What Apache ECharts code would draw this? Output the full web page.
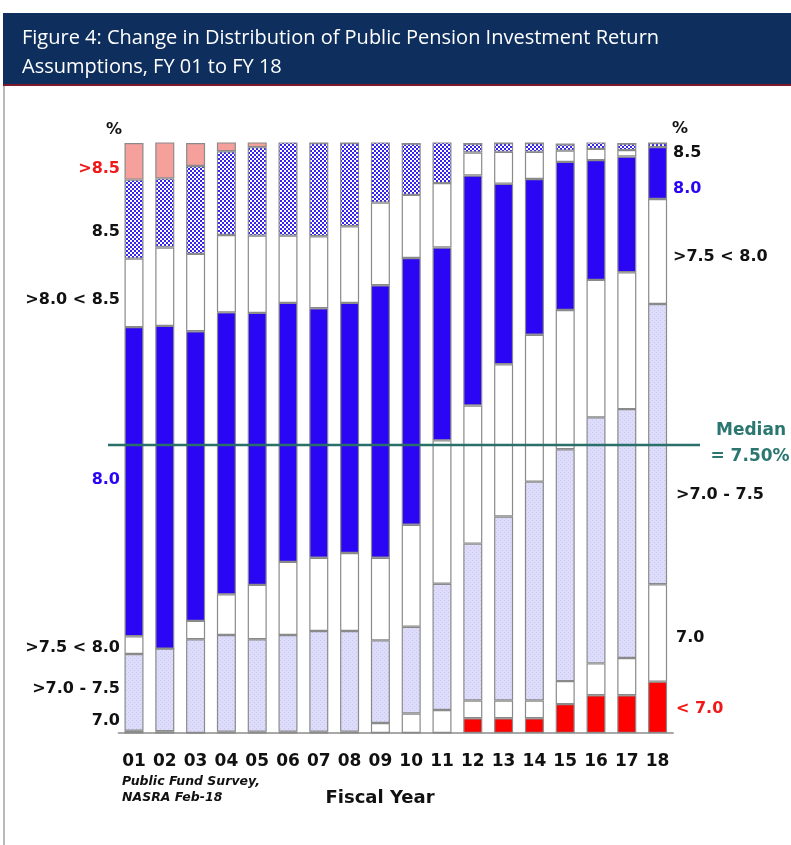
<!DOCTYPE html>
<html>
<head>
<meta charset="utf-8">
<script src="https://cdn.jsdelivr.net/npm/echarts@6/dist/echarts.min.js"></script>
<style>
  html, body { margin: 0; padding: 0; background: #fff; }
  #main { width: 791px; height: 845px; }
</style>
</head>
<body>
<div id="main"></div>
<script>
// fiscal years
var years = ['01', '02', '03', '04', '05', '06', '07', '08', '09', '10', '11', '12', '13', '14', '15', '16', '17', '18'];

// share of plans (%) by assumed return, bottom to top of each bar
var below70   = [0, 0, 0, 0, 0, 0, 0, 0, 0, 0, 0, 2.5, 2.5, 2.5, 4.9, 6.4, 6.4, 8.7];
var at70      = [0.4, 0.3, 0, 0.2, 0.2, 0.2, 0.2, 0.2, 1.7, 3.3, 3.9, 3.0, 3.0, 3.0, 3.9, 5.4, 6.3, 16.5];
var from70to75 = [13.0, 14.0, 15.9, 16.4, 15.7, 16.4, 17.1, 17.1, 14.0, 14.7, 21.4, 26.6, 31.2, 37.1, 39.3, 41.7, 42.2, 47.5];
var from75to80 = [3.0, 0, 3.1, 6.9, 9.2, 12.4, 12.4, 13.2, 14.0, 17.3, 24.3, 23.4, 25.8, 24.9, 23.6, 23.3, 23.2, 17.8];
var at80      = [52.4, 54.7, 49.1, 47.8, 46.1, 43.9, 42.3, 42.4, 46.2, 45.2, 32.7, 39.0, 30.6, 26.4, 25.1, 20.3, 19.6, 8.8];
var from80to85 = [11.6, 13.3, 13.1, 13.1, 13.1, 11.4, 12.2, 13.0, 14.0, 10.7, 10.9, 3.9, 5.4, 4.6, 1.9, 1.9, 1.1, 0];
var at85      = [13.4, 11.7, 14.9, 14.2, 15.0, 15.8, 15.8, 14.1, 10.2, 8.7, 7.0, 1.5, 1.5, 1.5, 1.1, 1.1, 1.1, 0.7];
var above85   = [6.2, 6.2, 3.9, 1.5, 0.8, 0, 0, 0, 0, 0, 0, 0, 0, 0, 0, 0, 0, 0];

// median marker (cumulative % where the line is drawn)
var medianLevel = 48.8;
var medianText = ['Median', '= 7.50%'];

var leftLabels = ['>8.5', '8.5', '>8.0 < 8.5', '8.0', '>7.5 < 8.0', '>7.0 - 7.5', '7.0'];
var rightLabels = ['8.5', '8.0', '>7.5 < 8.0', '>7.0 - 7.5', '7.0', '< 7.0'];

// small repeating canvas fills
function makePattern(bg, fg, cells) {
    var c = document.createElement('canvas');
    c.width = 4;
    c.height = 4;
    var ctx = c.getContext('2d');
    ctx.fillStyle = bg;
    ctx.fillRect(0, 0, 4, 4);
    ctx.fillStyle = fg;
    cells.forEach(function (p) { ctx.fillRect(p[0], p[1], p[2], p[3]); });
    return { image: c, repeat: 'repeat' };
}

var checker = makePattern('#ffffff', '#3522f0', [[0, 0, 2, 2], [2, 2, 2, 2]]);
var lavender = makePattern('#dddcfa', '#c9c8f0', [[0, 0, 1, 1], [2, 2, 1, 1]]);

var BLUE = '#2a06f4';
var font = 'DejaVu Sans';

function stackSeries(name, data, color) {
    return {
        name: name,
        type: 'bar',
        stack: 'total',
        barWidth: 19,
        data: data,
        itemStyle: { color: color, borderColor: '#8a8a8a', borderWidth: 1.2 },
        silent: true
    };
}

function txt(x, y, text, color, align, size) {
    return {
        type: 'text', x: x, y: y,
        style: {
            text: text, fill: color || '#111', font: 'bold ' + (size || 16) + 'px "' + font + '"',
            textAlign: align || 'right', textVerticalAlign: 'middle'
        }
    };
}

var chart = echarts.init(document.getElementById('main'));

var graphics = [
    // title banner
    { type: 'rect', shape: { x: 3, y: 13, width: 788, height: 71 }, style: { fill: '#0e2f5e' } },
    { type: 'rect', shape: { x: 3, y: 84, width: 788, height: 2 }, style: { fill: '#7c1a2c' } },
    { type: 'line', shape: { x1: 4, y1: 86, x2: 4, y2: 845 }, style: { stroke: '#a0a0a0', lineWidth: 1.5 } },
    {
        type: 'text', x: 22, y: 38,
        style: { text: 'Figure 4: Change in Distribution of Public Pension Investment Return', fill: '#fff',
                 font: '20px "Open Sans"', textVerticalAlign: 'middle' }
    },
    {
        type: 'text', x: 22, y: 67,
        style: { text: 'Assumptions, FY 01 to FY 18', fill: '#fff',
                 font: '20px "Open Sans"', textVerticalAlign: 'middle' }
    },
    // percent marks
    txt(122, 130, '%', '#111', 'right', 16),
    txt(672, 129, '%', '#111', 'left', 16),
    // left side
    txt(120, 169, leftLabels[0], '#f01818'),
    txt(120, 232, leftLabels[1]),
    txt(120, 300, leftLabels[2]),
    txt(120, 480, leftLabels[3], BLUE),
    txt(120, 648, leftLabels[4]),
    txt(120, 689, leftLabels[5]),
    txt(120, 721, leftLabels[6]),
    // right side
    txt(673, 153, rightLabels[0], '#111', 'left'),
    txt(673, 189, rightLabels[1], BLUE, 'left'),
    txt(673, 257, rightLabels[2], '#111', 'left'),
    txt(676, 495, rightLabels[3], '#111', 'left'),
    txt(676, 638, rightLabels[4], '#111', 'left'),
    txt(676, 709, rightLabels[5], '#f01818', 'left'),
    txt(751, 431, medianText[0], '#2b7670', 'center', 17),
    txt(750, 457, medianText[1], '#2b7670', 'center', 17),
    // source + axis name
    {
        type: 'text', x: 122, y: 790,
        style: { text: 'Public Fund Survey,\nNASRA Feb-18', fill: '#111', lineHeight: 16,
                 font: 'italic bold 12.5px "' + font + '"', textVerticalAlign: 'middle' }
    },
    txt(380, 798, 'Fiscal Year', '#111', 'center', 18)
];

var option = {
    animation: false,
    backgroundColor: '#fff',
    grid: [
        { left: 118.6, right: 118, top: 143, bottom: 112 },
        { left: 108, right: 91, top: 143, bottom: 112 }
    ],
    xAxis: [
        {
            type: 'category',
            data: years,
            gridIndex: 0,
            axisTick: { show: false },
            axisLine: { show: true, onZero: false, lineStyle: { color: '#a8a8a8', width: 2 } },
            axisLabel: { margin: 20, color: '#111', fontFamily: font, fontWeight: 'bold', fontSize: 17 }
        },
        { type: 'value', gridIndex: 1, min: 0, max: 1, show: false }
    ],
    yAxis: [
        { type: 'value', gridIndex: 0, min: 0, max: 100, show: false },
        { type: 'value', gridIndex: 1, min: 0, max: 100, show: false }
    ],
    series: [
        stackSeries('<7.0', below70, '#ff0000'),
        stackSeries('7.0', at70, '#ffffff'),
        stackSeries('>7.0 - 7.5', from70to75, lavender),
        stackSeries('>7.5 < 8.0', from75to80, '#ffffff'),
        stackSeries('8.0', at80, BLUE),
        stackSeries('>8.0 < 8.5', from80to85, '#ffffff'),
        stackSeries('8.5', at85, checker),
        stackSeries('>8.5', above85, '#f6a09c'),
        {
            name: 'Median',
            type: 'line',
            xAxisIndex: 1,
            yAxisIndex: 1,
            symbol: 'none',
            silent: true,
            z: 5,
            data: [[0, medianLevel], [1, medianLevel]],
            lineStyle: { color: '#2a6f69', width: 2.5 }
        }
    ],
    graphic: graphics
};

chart.setOption(option);
</script>
</body>
</html>
